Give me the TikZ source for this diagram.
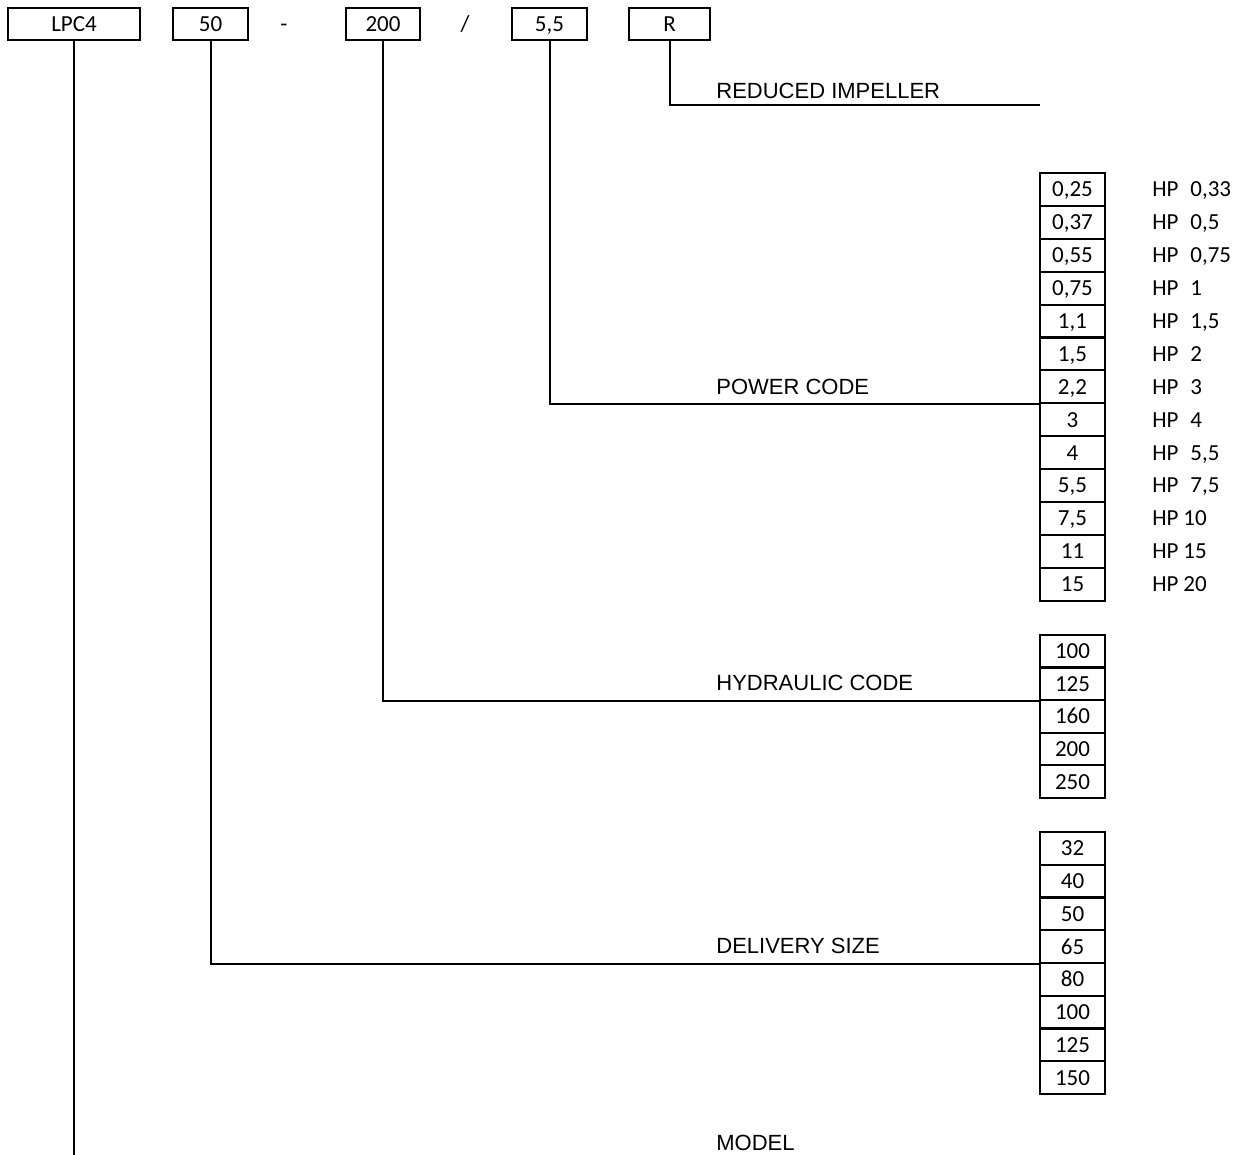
\documentclass[tikz,border=0pt]{standalone}
\usepackage{fontspec}
\setmainfont{Carlito}
\newfontfamily\arialfont{Liberation Sans}
\usetikzlibrary{positioning}

\tikzset{
  codebox/.style={draw, line width=1pt, minimum height=16pt, inner sep=0pt, text height=7.4pt, text depth=0pt, font=\fontsize{11.5}{13}\selectfont},
  sep/.style={inner sep=0pt, text height=7.4pt, text depth=0pt, font=\fontsize{11.5}{13}\selectfont},
  cell/.style={draw, line width=1pt, minimum width=32.5pt, minimum height=16.4pt, inner sep=0pt, text height=7.4pt, text depth=0pt, font=\fontsize{11.5}{13}\selectfont},
  link/.style={line width=1pt},
  caption/.style={anchor=west, inner sep=0pt, text height=7.9pt, text depth=0pt, font=\arialfont\fontsize{11}{13}\selectfont},
  hptext/.style={anchor=west, inner sep=0pt, text height=7.4pt, text depth=0pt, font=\fontsize{11.5}{13}\selectfont}
}

\begin{document}
\begin{tikzpicture}[x=0.5pt, y=-0.5pt]
    \useasboundingbox (0,0) rectangle (1250,1155);

    % Code en tete
    \node[codebox, minimum width=66pt]   (lpc) at (74,24)    {LPC4};
    \node[codebox, minimum width=37.5pt] (dn)  at (210.5,24) {50};
    \node[sep] (dash) at (284,24) {-};
    \node[codebox, minimum width=37pt]   (hy)  at (383,24)   {200};
    \node[sep] (slash) at (465,24) {/};
    \node[codebox, minimum width=37.5pt] (pw)  at (549.5,24) {5,5};
    \node[codebox, minimum width=40.5pt] (red) at (669.5,24) {R};

    % Puissance (kW / HP)
    \foreach \v/\h/\x [count=\i] in {{0,25}/{0,33}/1190, {0,37}/{0,5}/1190, {0,55}/{0,75}/1190,
        {0,75}/1/1190, {1,1}/{1,5}/1190, {1,5}/2/1190, {2,2}/3/1190, 3/4/1190, 4/{5,5}/1190,
        {5,5}/{7,5}/1190, {7,5}/10/1183, 11/15/1183, 15/20/1183} {
      \node[cell] (kw-\i) at (1072.5,{173+(\i-0.5)*32.9}) {\v};
      \node[hptext] (hp-\i) at (1152,{173+(\i-0.5)*32.9}) {HP};
      \node[hptext] (hv-\i) at (\x,{173+(\i-0.5)*32.9}) {\h};
    }

    % Hydraulique
    \foreach \v [count=\i] in {100,125,160,200,250}
      \node[cell] (hc-\i) at (1072.5,{635+(\i-0.5)*32.6}) {\v};

    % Refoulement
    \foreach \v [count=\i] in {32,40,50,65,80,100,125,150}
      \node[cell] (ds-\i) at (1072.5,{832+(\i-0.5)*32.75}) {\v};

    % Liaisons
    \coordinate (redEnd) at (1040,105);
    \coordinate (modEnd) at (75,1155);
    \draw[link] (red.south) |- (redEnd);
    \draw[link] (pw.south) |- (kw-7.south west);
    \draw[link] (hy.south) |- (hc-2.south west);
    \draw[link] (dn.south) |- (ds-4.south west);
    \draw[link] (lpc.south) -- (lpc.south |- modEnd);

    % Legendes
    \node[caption] (lblRed) at (716,91)   {REDUCED IMPELLER};
    \node[caption] (lblPw)  at (716,387)  {POWER CODE};
    \node[caption] (lblHy)  at (716,683)  {HYDRAULIC CODE};
    \node[caption] (lblDs)  at (716,946)  {DELIVERY SIZE};
    \node[caption] (lblMod) at (716,1143) {MODEL};

\end{tikzpicture}
\end{document}
